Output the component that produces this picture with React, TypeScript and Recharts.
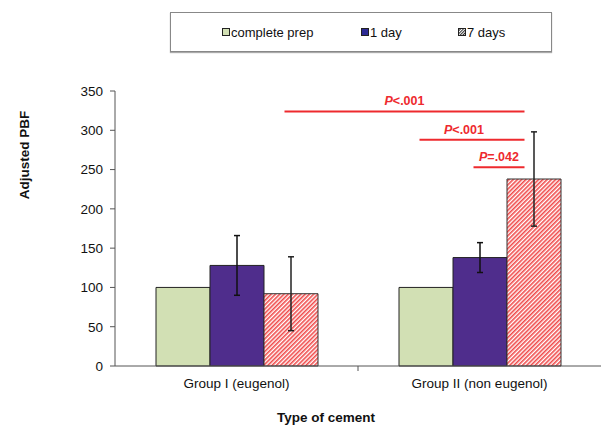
import React from 'react';
import { BarChart, Bar, XAxis, YAxis, ErrorBar, ReferenceLine, Label } from 'recharts';

const categories = ['Group I (eugenol)', 'Group II (non eugenol)'];
const completePrep = [100, 100];
const oneDay = [128, 138];
const oneDayErr = [38, 19];
const sevenDays = [92, 238];
const sevenDaysErr = [47, 60];
const yTicks = [0, 50, 100, 150, 200, 250, 300, 350];

// significance brackets: from bar (category, series index) to bar, at height y
const brackets = [
  { from: 0, fromBar: 2, to: 1, toBar: 2, y: 324, text: '<.001' },
  { from: 1, fromBar: 0, to: 1, toBar: 2, y: 288, text: '<.001' },
  { from: 1, fromBar: 1, to: 1, toBar: 2, y: 253, text: '=.042' },
];

const data = categories.map((name, i) => ({
  name,
  complete: completePrep[i],
  day1: oneDay[i],
  day1Err: oneDayErr[i],
  day7: sevenDays[i],
  day7Err: sevenDaysErr[i],
}));

const BAR = 54;
const FONT = '"Liberation Sans", Arial, sans-serif';
const RED = '#ee2a2e';

const XTick = (props: any) => {
  const { x, y, payload, index } = props;
  const half = payload?.offset ? payload.offset : 121.5;
  return (
    <g>
      <text x={x} y={y + 14} textAnchor="middle" fontSize={13.5} fill="#111" fontFamily={FONT}>
        {payload.value}
      </text>
      {index === 0 && <line x1={x + half} x2={x + half} y1={y - 8} y2={y - 3} stroke="#555" />}
    </g>
  );
};

const bracketShape = (b: any) => (props: any) => {
  const { x1, x2, y1 } = props;
  // x1/x2 are category centres
  const start = x1 + (b.fromBar - 1) * BAR - 6;
  const end = x2 + (b.toBar - 1) * BAR - 9;
  const mid = (start + end) / 2 + (b.fromBar === 0 ? -8 : 0);
  return (
    <g>
      <line x1={start} x2={end} y1={y1} y2={y1} stroke={RED} strokeWidth={2} />
      <text x={mid} y={y1 - 6} textAnchor="middle" fontSize={12.5} fontWeight="bold" fill={RED} fontFamily={FONT}>
        <tspan fontStyle="italic">P</tspan>
        {b.text}
      </text>
    </g>
  );
};

const Swatch = ({ fill }: { fill: string }) => (
  <svg width={8} height={8} style={{ marginRight: 1 }}>
    <rect x={0.5} y={0.5} width={7} height={7} fill={fill} stroke="#222" />
  </svg>
);

export default function App() {
  return (
    <div style={{ position: 'relative', width: 603, height: 430, fontFamily: FONT }}>
      <style>{'body{margin:0}'}</style>
      <div
        style={{
          position: 'absolute',
          left: 170,
          top: 12,
          width: 380,
          height: 38,
          border: '1px solid #888',
          boxShadow: '0 1px 1px #aaa',
          display: 'flex',
          alignItems: 'center',
          fontSize: 13,
          color: '#111',
        }}
      >
        <svg width={0} height={0} style={{ position: 'absolute' }}>
          <defs>
            <pattern id="legendHatch" patternUnits="userSpaceOnUse" width="2" height="2" patternTransform="rotate(45)">
              <rect width="2" height="2" fill="#fff" />
              <rect width="1" height="2" fill="#333" />
            </pattern>
          </defs>
        </svg>
        <span style={{ position: 'absolute', left: 51, display: 'flex', alignItems: 'center' }}>
          <Swatch fill="#d2e0b4" />complete prep
        </span>
        <span style={{ position: 'absolute', left: 190, display: 'flex', alignItems: 'center' }}>
          <Swatch fill="#2c2a94" />1 day
        </span>
        <span style={{ position: 'absolute', left: 287, display: 'flex', alignItems: 'center' }}>
          <Swatch fill="url(#legendHatch)" />7 days
        </span>
      </div>
      <div style={{ position: 'absolute', left: 0, top: 0 }}>
        <BarChart
          width={603}
          height={430}
          data={data}
          margin={{ top: 91, right: 2, left: 0, bottom: 34 }}
          barCategoryGap={40}
          barGap={0}
        >
          <defs>
            <pattern id="hatch" patternUnits="userSpaceOnUse" width="3" height="3" patternTransform="rotate(45)">
              <rect width="3" height="3" fill="#fff" />
              <rect width="1.6" height="3" fill="#f04a4a" />
            </pattern>
          </defs>
          <XAxis
            dataKey="name"
            tickLine={false}
            axisLine={{ stroke: '#555' }}
            tick={<XTick />}
            height={30}
            interval={0}
          >
            <Label
              content={() => (
                <text x={326} y={422} textAnchor="middle" fontSize={13.5} fontWeight="bold" fill="#111" fontFamily={FONT}>
                  Type of cement
                </text>
              )}
            />
          </XAxis>
          <YAxis
            width={115}
            domain={[0, 350]}
            ticks={yTicks}
            interval={0}
            tickSize={5}
            tickMargin={7}
            axisLine={{ stroke: '#555' }}
            tickLine={{ stroke: '#555' }}
            tick={{ fontSize: 13.5, fill: '#111', fontFamily: FONT }}
          >
            <Label
              content={() => (
                <text
                  x={29}
                  y={155}
                  textAnchor="middle"
                  fontSize={13.5}
                  fontWeight="bold"
                  fill="#111"
                  fontFamily={FONT}
                  transform="rotate(-90 29 155)"
                >
                  Adjusted PBF
                </text>
              )}
            />
          </YAxis>
          <Bar dataKey="complete" barSize={BAR} fill="#d2e0b4" stroke="#222" strokeWidth={1} isAnimationActive={false} />
          <Bar dataKey="day1" barSize={BAR} fill="#4f2d8c" stroke="#222" strokeWidth={1} isAnimationActive={false}>
            <ErrorBar dataKey="day1Err" width={3} stroke="#111" strokeWidth={1.5} />
          </Bar>
          <Bar dataKey="day7" barSize={BAR} fill="url(#hatch)" stroke="#333" strokeWidth={1} isAnimationActive={false}>
            <ErrorBar dataKey="day7Err" width={3} stroke="#222" strokeWidth={1.5} />
          </Bar>
          {brackets.map((b, i) => (
            <ReferenceLine
              key={i}
              segment={[
                { x: categories[b.from], y: b.y },
                { x: categories[b.to], y: b.y },
              ]}
              shape={bracketShape(b)}
            />
          ))}
        </BarChart>
      </div>
    </div>
  );
}
